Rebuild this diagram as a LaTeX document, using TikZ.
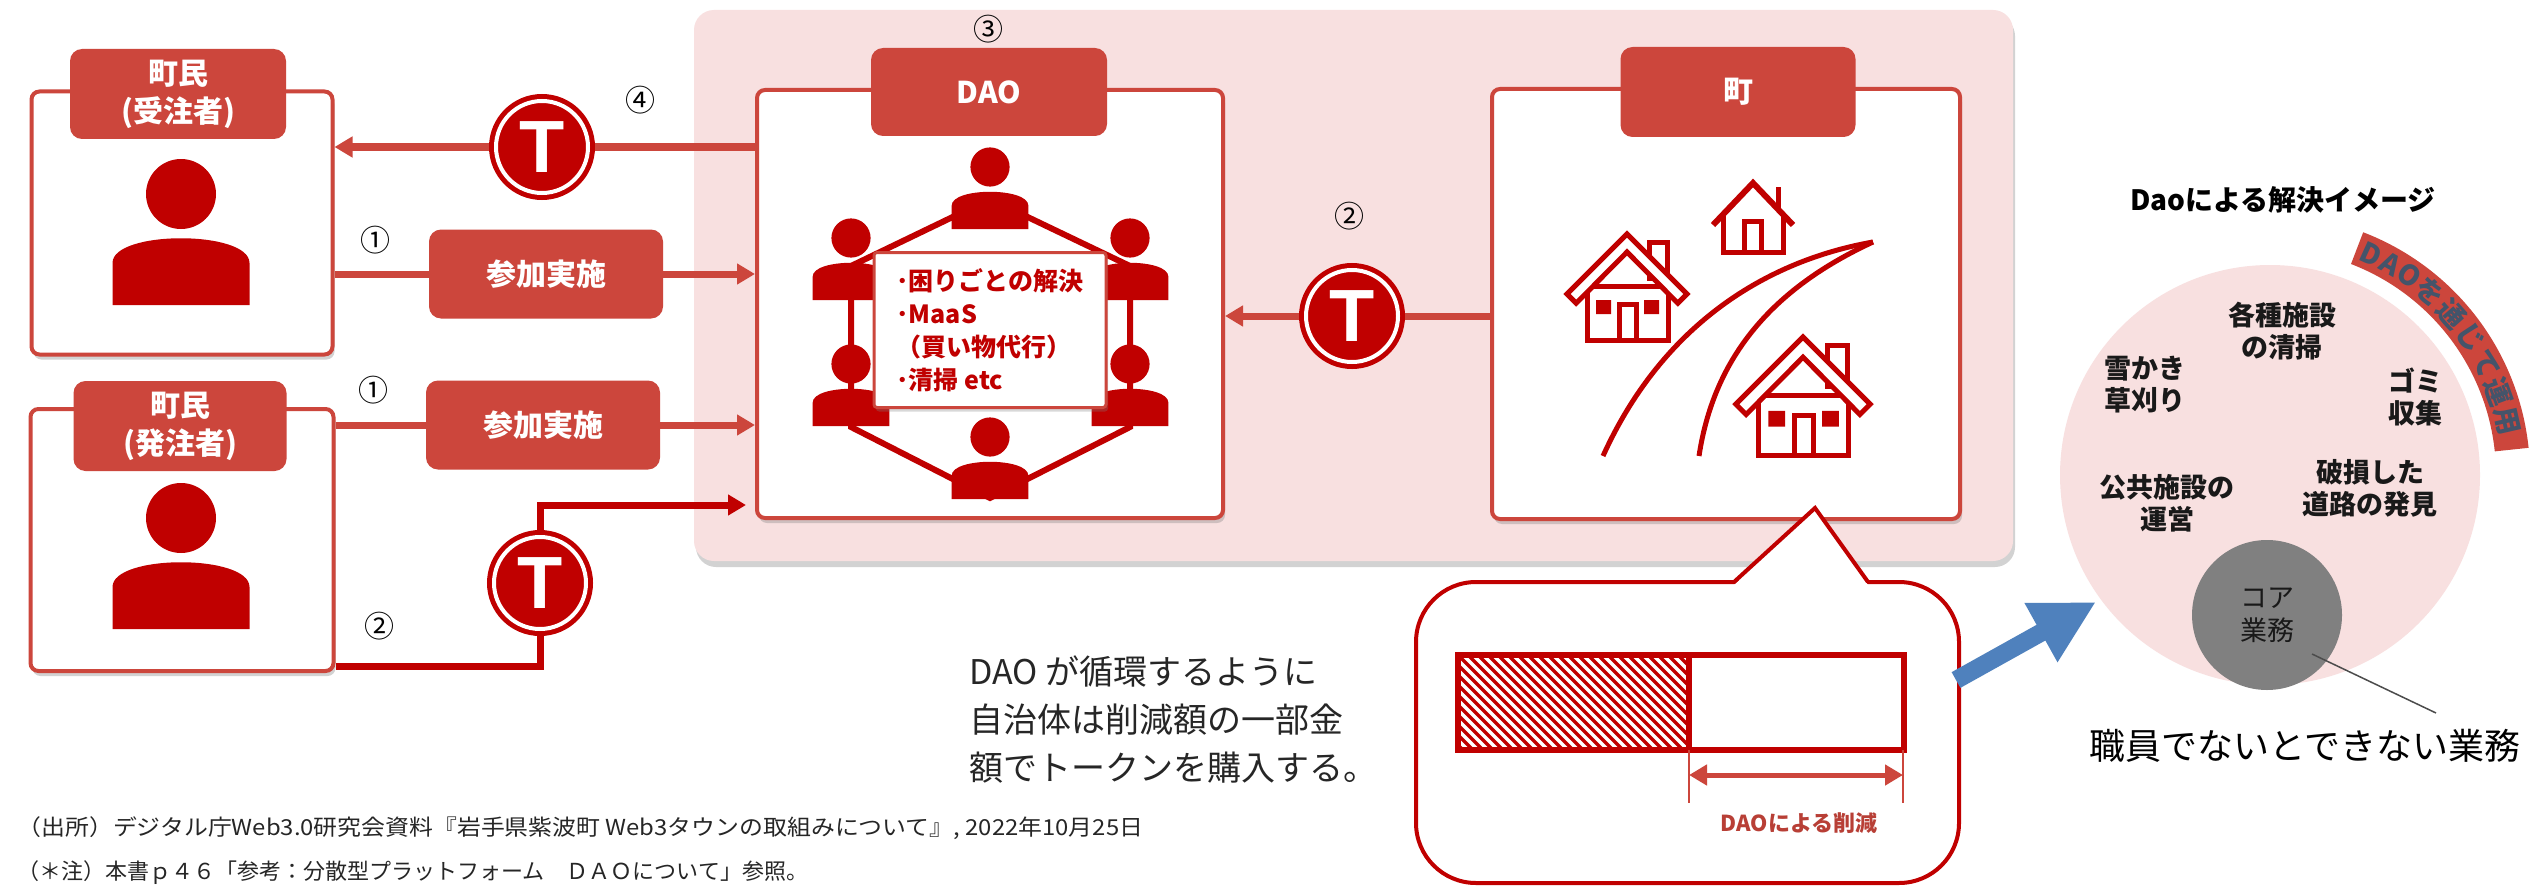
\documentclass[tikz,border=0pt]{standalone}
\usepackage{fontspec}
\setmainfont{Noto Sans CJK JP}
\newfontfamily\tokenfont{Liberation Sans}
\usetikzlibrary{positioning, arrows.meta, calc, shadows}

\definecolor{tabred}{RGB}{204,70,60}
\definecolor{iconred}{RGB}{192,0,0}
\definecolor{bgpink}{RGB}{248,224,224}
\definecolor{arrowblue}{RGB}{79,129,189}
\definecolor{slate}{RGB}{68,84,106}
\definecolor{coregray}{RGB}{128,128,128}

\newcommand{\jp}[2]{\fontsize{#1}{#2}\selectfont}

\tikzset{
  member/.pic={
    \fill[iconred] (0,0) circle[radius=35];
    \fill[iconred] (-68.5,111) -- (-68.5,69) .. controls (-68.5,36) and (68.5,36) .. (68.5,69) -- (68.5,111) -- cycle;
  },
  cottage/.pic={
    \draw[house] (22,8) rectangle (40,44);
    \draw[house] (-40,52) rectangle (41,106);
    \draw[house] (-8,70) rectangle (9,106);
    \fill[iconred] (-31,66) rectangle (-16,80) (17,66) rectangle (32,80);
    \draw[house] (-60,60) -- (0,0) -- (60,60) -- (50.8,69.2) -- (0,18) -- (-50.8,69.2) -- cycle;
  },
  hut/.pic={
    \draw[house] (25,6) -- (25,30);
    \draw[house, fill=none] (-30,34) -- (-30,71) -- (30,71) -- (30,34);
    \draw[house] (-9,40) rectangle (8,71);
    \draw[house, fill=none, line width=6pt] (-40,44) -- (0,2) -- (40,44);
  }
}

\begin{document}
\begin{tikzpicture}[x=1pt, y=-1pt,
    panel/.style={draw=tabred, line width=4pt, fill=white, rounded corners=8pt,
        drop shadow={shadow xshift=2pt, shadow yshift=-5pt, opacity=0.35}},
    tabbox/.style={fill=tabred, rounded corners=12pt, text=white, align=center,
        font=\bfseries\jp{30}{38}},
    joinbox/.style={fill=tabred, rounded corners=12pt, text=white,
        font=\bfseries\jp{30}{36}, minimum width=234pt, minimum height=89pt},
    token/.style={circle, fill=iconred, draw=iconred, line width=5pt, double=white,
        double distance=4pt, minimum size=92pt, inner sep=0pt, outer sep=7pt,
        text=white, font=\tokenfont\bfseries\jp{74}{74}},
    num/.style={font=\jp{30}{30}},
    conn/.style={draw=tabred, line width=7pt},
    tokline/.style={draw=iconred, line width=7pt},
    arr/.style={-{Triangle[length=18pt, width=20pt]}},
    house/.style={draw=iconred, line width=5pt, fill=white},
    item/.style={align=center, font=\bfseries\jp{27}{32}, text=black!90}
]
    \useasboundingbox (0,0) rectangle (2529,888);
    \fill[white] (0,0) rectangle (2529,888);

    % residents
    \node[panel, minimum width=301pt, minimum height=263pt] (res1) at (182,223) {};
    \node[tabbox, minimum width=216pt, minimum height=90pt] (res1tab) at (178,94) {町民\\(受注者)};
    \pic at (181,194) {member};
    \node[panel, minimum width=303pt, minimum height=262pt] (res2) at (182,540) {};
    \node[tabbox, minimum width=213pt, minimum height=90pt] (res2tab) at (180,426) {町民\\(発注者)};
    \pic at (181,518) {member};

    % DAO and town on the shaded area
    \node[fill=bgpink, rounded corners=20pt, minimum width=1319pt, minimum height=551pt,
        drop shadow={shadow xshift=2pt, shadow yshift=-6pt, opacity=0.35}] (group) at (1353.5,285.5) {};

    \node[panel, minimum width=466pt, minimum height=428pt] (dao) at (990,304) {};
    \node[tabbox, minimum width=236pt, minimum height=88pt] (daotab) at (989,92) {DAO};
    \draw[iconred, line width=6pt] (990,199) -- (1130,266) -- (1130,427) -- (990,498)
        -- (851,427) -- (851,266) -- cycle;
    \foreach \px/\py in {990/167, 851/238, 1130/238, 851/364, 1130/364, 990/437}
        \pic[scale=0.56] at (\px,\py) {member};
    \node[draw=tabred, line width=3pt, fill=white, rounded corners=3pt,
        minimum width=232pt, minimum height=155pt, align=left, text=iconred,
        font=\bfseries\jp{25}{33},
        drop shadow={shadow xshift=2pt, shadow yshift=-4pt, opacity=0.3}] (tasks) at (990,330)
        {･困りごとの解決\\･MaaS\\（買い物代行）\\･清掃 etc};

    \node[panel, minimum width=468pt, minimum height=430pt] (town) at (1726,304) {};
    \node[tabbox, minimum width=235pt, minimum height=90pt] (towntab) at (1738,92) {町};
    \draw[iconred, line width=5pt] (1603,456) .. controls (1660,330) and (1760,262) .. (1873,242);
    \draw[iconred, line width=5pt] (1699,456) .. controls (1715,350) and (1780,285) .. (1873,242);
    \pic at (1627,234) {cottage};
    \pic[scale=1.12] at (1803,337) {cottage};
    \pic at (1753,181) {hut};

    % tokens and flows
    \node[joinbox] (join1) at (546,274) {参加実施};
    \node[joinbox] (join2) at (543,425) {参加実施};
    \node[token] (tok1) at (542,147) {T};
    \node[token] (tok2) at (540,583) {T};
    \node[token] (tok3) at (1352,316) {T};
    \coordinate (orderin) at (746,505);

    \draw[conn] (dao.west |- tok1) -- (tok1);
    \draw[conn, arr] (tok1) -- (res1.east |- tok1);
    \draw[conn] (res1.east |- join1) -- (join1);
    \draw[conn, arr] (join1) -- (dao.west |- join1);
    \draw[conn] (res2.east |- join2) -- (join2);
    \draw[conn, arr] (join2) -- (dao.west |- join2);
    \draw[tokline] ([yshift=7pt]res2.south east) -| (tok2);
    \draw[tokline, arr] (tok2) |- (orderin);
    \draw[conn] (town.west |- tok3) -- (tok3);
    \draw[conn, arr] (tok3) -- (dao.east |- tok3);

    \node[num] (n4) at (640,100) {④};
    \node[num] (n1a) at (375,240) {①};
    \node[num] (n1b) at (373,390) {①};
    \node[num] (n2a) at (379,626) {②};
    \node[num] (n2b) at (1349,216) {②};
    \node[num] (n3) at (988,29) {③};

    % callout with the cost bar
    \draw[iconred, line width=4pt, fill=white, rounded corners=60pt] (1416,582) rectangle (1959,883);
    \fill[white] (1734,585) -- (1815,508) -- (1868,585) -- cycle;
    \draw[iconred, line width=4pt] (1734,582) -- (1815,508) -- (1868,582);
    \begin{scope}
        \clip (1458,655) rectangle (1689,750);
        \foreach \i in {0,...,34}
            \draw[iconred, line width=3.5pt] ({1358+\i*10},655) -- ++(100,100);
    \end{scope}
    \draw[iconred, line width=6pt] (1458,655) rectangle (1904,750);
    \draw[iconred, line width=6pt] (1689,655) -- (1689,750);
    \draw[tabred, line width=1.5pt] (1689,750) -- (1689,803);
    \draw[tabred, line width=1.5pt] (1903,750) -- (1903,803);
    \draw[tabred, line width=5pt, {Triangle[length=18pt, width=20pt]}-{Triangle[length=18pt, width=20pt]}]
        (1689,775) -- (1903,775);
    \node[font=\bfseries\jp{22}{22}, text=tabred!90!black] (cut) at (1799,823) {DAOによる削減};

    \node[anchor=west, align=left, font=\jp{34}{48}, text=black!85] (loop) at (966,720)
        {DAO が循環するように\\自治体は削減額の一部金\\額でトークンを購入する。};

    % solution image
    \coordinate (pushfrom) at (1956,680);
    \coordinate (pushto) at (2096,602);
    \draw[arrowblue, line width=18pt, -{Triangle[length=63pt, width=63pt]}] (pushfrom) -- (pushto);

    \node[font=\bfseries\jp{28}{28}] (soltitle) at (2283,200) {Daoによる解決イメージ};
    \node[circle, fill=bgpink, minimum size=420pt, inner sep=0pt] (sol) at (2270,475) {};
    \fill[tabred] ($(sol.center)+(-69:260)$) arc[start angle=-69, end angle=-6, radius=260]
        -- ($(sol.center)+(-6:226)$) arc[start angle=-6, end angle=-69, radius=226] -- cycle;
    \foreach \ch/\a [count=\k] in {D/65.5, A/60.3, O/55.1, を/48.8, 通/41.6, じ/34.4, て/27.2, 運/20.0, 用/12.8}
        \node[rotate=\a-90, text=slate, font=\bfseries\jp{28}{28}, inner sep=0pt] (band\k)
            at ($(sol.center)+(-\a:243)$) {\ch};

    \node[item] (clean) at (2282,331) {各種施設\\の清掃};
    \node[item] (snow) at (2145,385) {雪かき\\草刈り};
    \node[item] (trash) at (2415,397) {ゴミ\\収集};
    \node[item] (facility) at (2167,503) {公共施設の\\運営};
    \node[item] (road) at (2370,488) {破損した\\道路の発見};
    \node[circle, fill=coregray, minimum size=150pt, inner sep=0pt, align=center,
        font=\jp{27}{33}, text=black!90] (core) at (2267,615) {コア\\業務};

    \coordinate (leadfrom) at (2312,654);
    \coordinate (leadto) at (2436,713);
    \draw[black!70, line width=1.5pt] (leadfrom) -- (leadto);
    \node[font=\jp{36}{36}] (staff) at (2305,746) {職員でないとできない業務};

    % sources
    \node[anchor=west, font=\jp{22}{22}, text=black!85] (source) at (14,828)
        {\scalebox{1.085}[1]{（出所）デジタル庁Web3.0研究会資料『岩手県紫波町 Web3タウンの取組みについて』, 2022年10月25日}};
    \node[anchor=west, font=\jp{22}{22}, text=black!85] (note) at (14,873)
        {（＊注）本書ｐ４６「参考：分散型プラットフォーム　ＤＡＯについて」参照。};
\end{tikzpicture}
\end{document}
